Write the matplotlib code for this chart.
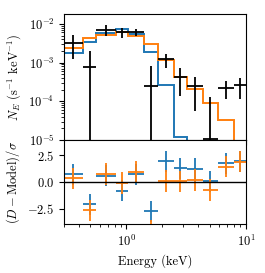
import numpy as np
import matplotlib
matplotlib.use("Agg")
import matplotlib.pyplot as plt

plt.rcParams["font.family"] = "serif"
plt.rcParams["font.serif"] = ["cmr10", "DejaVu Serif"]
plt.rcParams["mathtext.fontset"] = "cm"
plt.rcParams["axes.formatter.use_mathtext"] = True
plt.rcParams["font.size"] = 9

# bin edges (keV)
edges = [0.3, 0.43, 0.56, 0.82, 1.03, 1.4, 1.82, 2.48, 3.2, 4.4, 5.8, 7.9, 10.0]

# observed counts and errors
data = [3.16e-3, 7.8e-4, 7.0e-3, 6.1e-3, 6.1e-3, 2.5e-4, 1.21e-3, 4.28e-4, 2.45e-4, 1.05e-5, 2.27e-4, 2.57e-4]
data_err = [1.95e-3, 1.2e-3, 2.1e-3, 1.8e-3, 1.2e-3, 5.6e-4, 4.8e-4, 2.9e-4, 1.9e-4, 1.2e-4, 1.15e-4, 1.4e-4]

# two models
model_blue = [1.8e-3, 3.47e-3, 5.8e-3, 7.4e-3, 5.4e-3, 1.84e-3, 2.6e-4, 1.18e-5, 1e-6, 1e-7, 1e-8, 1e-9]
model_orange = [2.43e-3, 4.3e-3, 5.3e-3, 6.1e-3, 4.9e-3, 2.96e-3, 1.16e-3, 4.28e-4, 2.14e-4, 9.3e-5, 3.35e-5, 5e-6]

# residuals (D - Model)/sigma
resid_blue = [0.73, -2.1, 0.6, -0.83, 0.73, -2.76, 1.94, 1.3, 1.24, 0.06, 1.75, 1.96]
resid_orange = [0.35, -2.67, 0.76, -0.1, 0.98, -4.55, 0.1, 0.06, 0.19, -0.76, 1.46, 1.9]

edges = np.array(edges)
centers = np.sqrt(edges[:-1] * edges[1:])
xerr = [centers - edges[:-1], edges[1:] - centers]

fig = plt.figure(figsize=(2.65, 2.73), dpi=100)
ax1 = fig.add_axes([0.2415, 0.487, 0.6865, 0.4617])
ax2 = fig.add_axes([0.2415, 0.1795, 0.6865, 0.3075], sharex=ax1)

ax1.errorbar(centers, data, xerr=xerr, yerr=data_err, fmt="none", ecolor="k", elinewidth=1.3)
ax1.stairs(model_blue, edges, color="tab:blue", lw=1.4)
ax1.stairs(model_orange, edges, color="tab:orange", lw=1.4)
ax1.set_xscale("log")
ax1.set_yscale("log")
ax1.set_ylim(1e-5, 1.8e-2)
ax1.set_xlim(0.3, 10)
ax1.set_ylabel(r"$N_E$ (s$^{-1}$ keV$^{-1}$)")
plt.setp(ax1.get_xticklabels(), visible=False)

ax2.errorbar(centers, resid_blue, xerr=xerr, yerr=1, fmt="none", ecolor="tab:blue", elinewidth=1.3)
ax2.errorbar(centers, resid_orange, xerr=xerr, yerr=1, fmt="none", ecolor="tab:orange", elinewidth=1.3)
ax2.axhline(0, color="k", lw=1)
ax2.set_ylim(-3.95, 3.95)
ax2.set_yticks([-2.5, 0.0, 2.5])
ax2.set_xlabel("Energy (keV)")
ax2.set_ylabel(r"$(D-\mathrm{Model})/\sigma$")

fig.align_ylabels([ax1, ax2])
fig.savefig("out.png", dpi=100)
